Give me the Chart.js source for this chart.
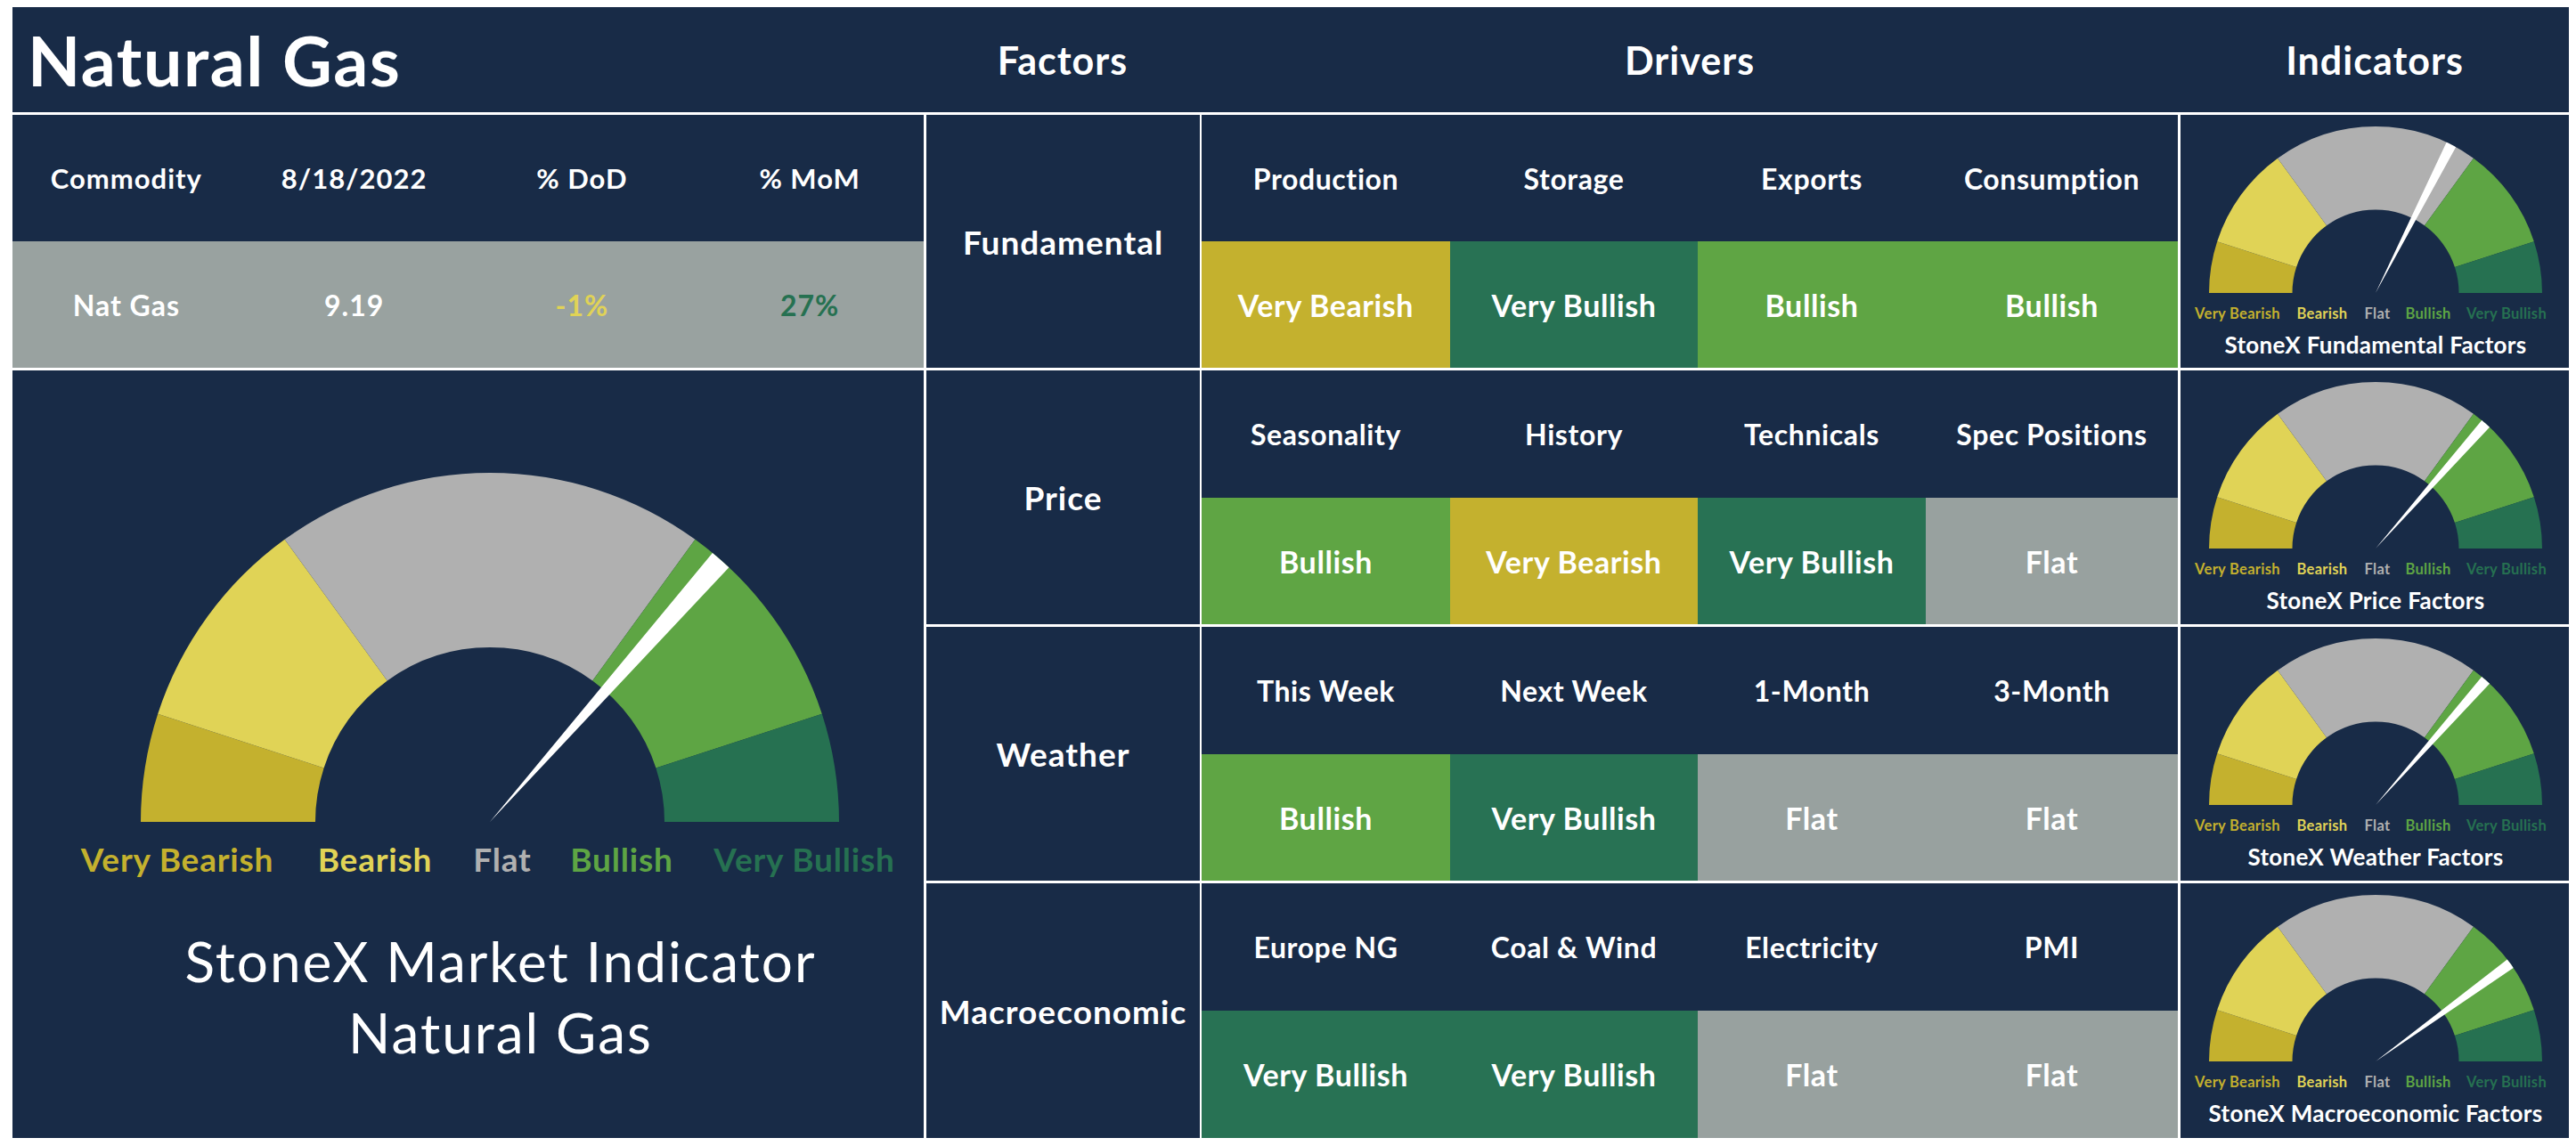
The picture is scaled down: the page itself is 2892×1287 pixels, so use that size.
<!DOCTYPE html>
<html lang="en">
<head>
<meta charset="UTF-8">
<title>Natural Gas - StoneX Market Indicator</title>
<script src="https://cdn.jsdelivr.net/npm/chart.js"></script>
<style>
  body {
    margin: 0;
    width: 2892px;
    height: 1287px;
    background: #ffffff;
    font-family: 'Lato', 'Open Sans', sans-serif;
    position: relative;
    overflow: hidden;
  }
  .box {
    position: absolute;
    background: #182b47;
    color: #ffffff;
    display: flex;
    align-items: center;
    justify-content: center;
    box-sizing: border-box;
    white-space: nowrap;
  }
  .lbl {
    position: absolute;
    transform: translate(-50%, -50%);
    white-space: nowrap;
    line-height: 1;
  }
  .layer { position: absolute; left: 0; top: 0; }
</style>
</head>
<body>

<script>
    // ---- data ----
    const zoneLabels = ['Very Bearish', 'Bearish', 'Flat', 'Bullish', 'Very Bullish'];
    const zoneWeights = [1, 2, 4, 2, 1];

    const commodityHeaders = ['Commodity', '8/18/2022', '% DoD', '% MoM'];
    const commodityValues = ['Nat Gas', '9.19', '-1%', '27%'];

    const factorNames = ['Fundamental', 'Price', 'Weather', 'Macroeconomic'];
    const driverNames = [
        ['Production', 'Storage', 'Exports', 'Consumption'],
        ['Seasonality', 'History', 'Technicals', 'Spec Positions'],
        ['This Week', 'Next Week', '1-Month', '3-Month'],
        ['Europe NG', 'Coal & Wind', 'Electricity', 'PMI']
    ];
    const driverSignals = [
        ['Very Bearish', 'Very Bullish', 'Bullish', 'Bullish'],
        ['Bullish', 'Very Bearish', 'Very Bullish', 'Flat'],
        ['Bullish', 'Very Bullish', 'Flat', 'Flat'],
        ['Very Bullish', 'Very Bullish', 'Flat', 'Flat']
    ];
    const indicatorTitles = ['StoneX Fundamental Factors', 'StoneX Price Factors',
        'StoneX Weather Factors', 'StoneX Macroeconomic Factors'];
    // needle position on the 0..10 gauge scale
    const factorScores = [6.5, 7.3, 7.3, 8.0];
    const overallScore = 7.3;
    const needleWidth = 0.2;

    // ---- styles / layout ----
    const zoneColors = ['#c4b12e', '#e0d356', '#b0b0b0', '#5ea544', '#267151'];
    const cellColors = {
        'Very Bearish': '#c4b12e',
        'Bearish': '#e0d356',
        'Flat': '#98a19f',
        'Bullish': '#5fa544',
        'Very Bullish': '#287254'
    };
    const ROW_TOP = [129, 416, 704, 992];
    const ROW_H = [284, 285, 285, 286];
    const DRIVER_X = [1349, 1628, 1906, 2162, 2445];

    function box(x, y, w, h, text, css) {
        const d = document.createElement('div');
        d.className = 'box';
        Object.assign(d.style, { left: x + 'px', top: y + 'px', width: w + 'px', height: h + 'px' }, css || {});
        if (text !== undefined) d.textContent = text;
        document.body.appendChild(d);
        return d;
    }

    function label(parent, x, y, text, css) {
        const d = document.createElement('div');
        d.className = 'lbl';
        Object.assign(d.style, { left: x + 'px', top: y + 'px' }, css || {});
        d.textContent = text;
        parent.appendChild(d);
        return d;
    }

    // half doughnut + a thin pie slice on top as needle
    function gauge(parent, cx, cy, r, score) {
        const host = document.createElement('div');
        Object.assign(host.style, {
            position: 'absolute', left: (cx - r) + 'px', top: (cy - r) + 'px',
            width: (2 * r) + 'px', height: r + 'px'
        });
        parent.appendChild(host);

        const base = {
            responsive: false,
            animation: false,
            events: [],
            rotation: -90,
            circumference: 180,
            layout: { padding: 0 },
            plugins: { legend: { display: false }, tooltip: { enabled: false } }
        };

        const c1 = document.createElement('canvas');
        c1.width = 2 * r; c1.height = r; c1.className = 'layer';
        host.appendChild(c1);
        new Chart(c1, {
            type: 'doughnut',
            data: {
                labels: zoneLabels,
                datasets: [{ data: zoneWeights, backgroundColor: zoneColors, borderWidth: 0, hoverOffset: 0, offset: 0 }]
            },
            options: Object.assign({ cutout: '50%' }, base)
        });

        const total = zoneWeights.reduce((a, b) => a + b, 0);
        const c2 = document.createElement('canvas');
        c2.width = 2 * r; c2.height = r; c2.className = 'layer';
        host.appendChild(c2);
        new Chart(c2, {
            type: 'pie',
            data: {
                labels: ['', 'needle', ''],
                datasets: [{
                    data: [score - needleWidth / 2, needleWidth, total - score - needleWidth / 2],
                    backgroundColor: ['rgba(0,0,0,0)', '#ffffff', 'rgba(0,0,0,0)'],
                    borderWidth: 0, hoverOffset: 0, offset: 0
                }]
            },
            options: base
        });
    }

    // ---- header ----
    const head = box(14, 8, 2870, 118);
    label(head, 17, 59, 'Natural Gas', { transform: 'translate(0,-50%)', fontSize: '77px', fontWeight: 700, letterSpacing: '1.5px' });
    label(head, 1193 - 14, 59, 'Factors', { fontSize: '43px', fontWeight: 700, letterSpacing: '1px' });
    label(head, 1897 - 14, 59, 'Drivers', { fontSize: '43px', fontWeight: 700, letterSpacing: '1px' });
    label(head, 2666 - 14, 59, 'Indicators', { fontSize: '43px', fontWeight: 700, letterSpacing: '1px' });

    // ---- commodity table ----
    const colW = 1023 / 4;
    commodityHeaders.forEach((h, i) => {
        box(14 + i * colW, 129, colW, 142, h, { fontSize: '31px', fontWeight: 700, letterSpacing: '1px' });
        const v = box(14 + i * colW, 271, colW, 142, commodityValues[i],
            { fontSize: '32px', fontWeight: 700, letterSpacing: '1px', background: '#99a2a0' });
        if (i === 2) v.style.color = '#e0d356';
        if (i === 3) v.style.color = '#267151';
    });

    // ---- main gauge panel ----
    const main = box(14, 416, 1023, 862);
    const mcx = 550 - 14, mcy = 923 - 416;
    gauge(main, mcx, mcy, 392, overallScore);
    const bigLabelX = [199, 421, 564, 698, 903];
    zoneLabels.forEach((z, i) => {
        label(main, bigLabelX[i] - 14, 964 - 416, z,
            { fontSize: '37px', fontWeight: 700, letterSpacing: '0.8px', color: i === 2 ? '#b0b0b0' : zoneColors[i] });
    });
    label(main, 562 - 14, 1079 - 416, 'StoneX Market Indicator', { fontSize: '62px', fontWeight: 400, letterSpacing: '2px' });
    label(main, 562 - 14, 1159 - 416, 'Natural Gas', { fontSize: '62px', fontWeight: 400, letterSpacing: '2px' });

    // ---- factor rows ----
    const smallLabelDX = [-155, -60, 2, 59, 147];
    factorNames.forEach((f, i) => {
        const top = ROW_TOP[i], h = ROW_H[i], half = Math.round(h / 2);
        box(1040, top, 307, h, f, { fontSize: '37px', fontWeight: 700, letterSpacing: '1px' });
        driverNames[i].forEach((d, j) => {
            const x = DRIVER_X[j], w = DRIVER_X[j + 1] - DRIVER_X[j];
            box(x, top, w, half, d, { fontSize: '32px', fontWeight: 700, letterSpacing: '0.6px' });
            const s = driverSignals[i][j];
            box(x, top + half, w, h - half, s,
                { fontSize: '34px', fontWeight: 700, letterSpacing: '0.6px', background: cellColors[s] });
        });

        const panel = box(2448, top, 436, h);
        const cx = 219, cy = 200;
        gauge(panel, cx, cy, 187, factorScores[i]);
        zoneLabels.forEach((z, k) => {
            label(panel, cx + smallLabelDX[k], cy + 23, z,
                { fontSize: '16.5px', fontWeight: 700, letterSpacing: '0.3px', color: k === 2 ? '#b0b0b0' : zoneColors[k] });
        });
        label(panel, cx, cy + 58, indicatorTitles[i], { fontSize: '26px', fontWeight: 700, letterSpacing: '0.3px' });
    });
</script>

</body>
</html>
